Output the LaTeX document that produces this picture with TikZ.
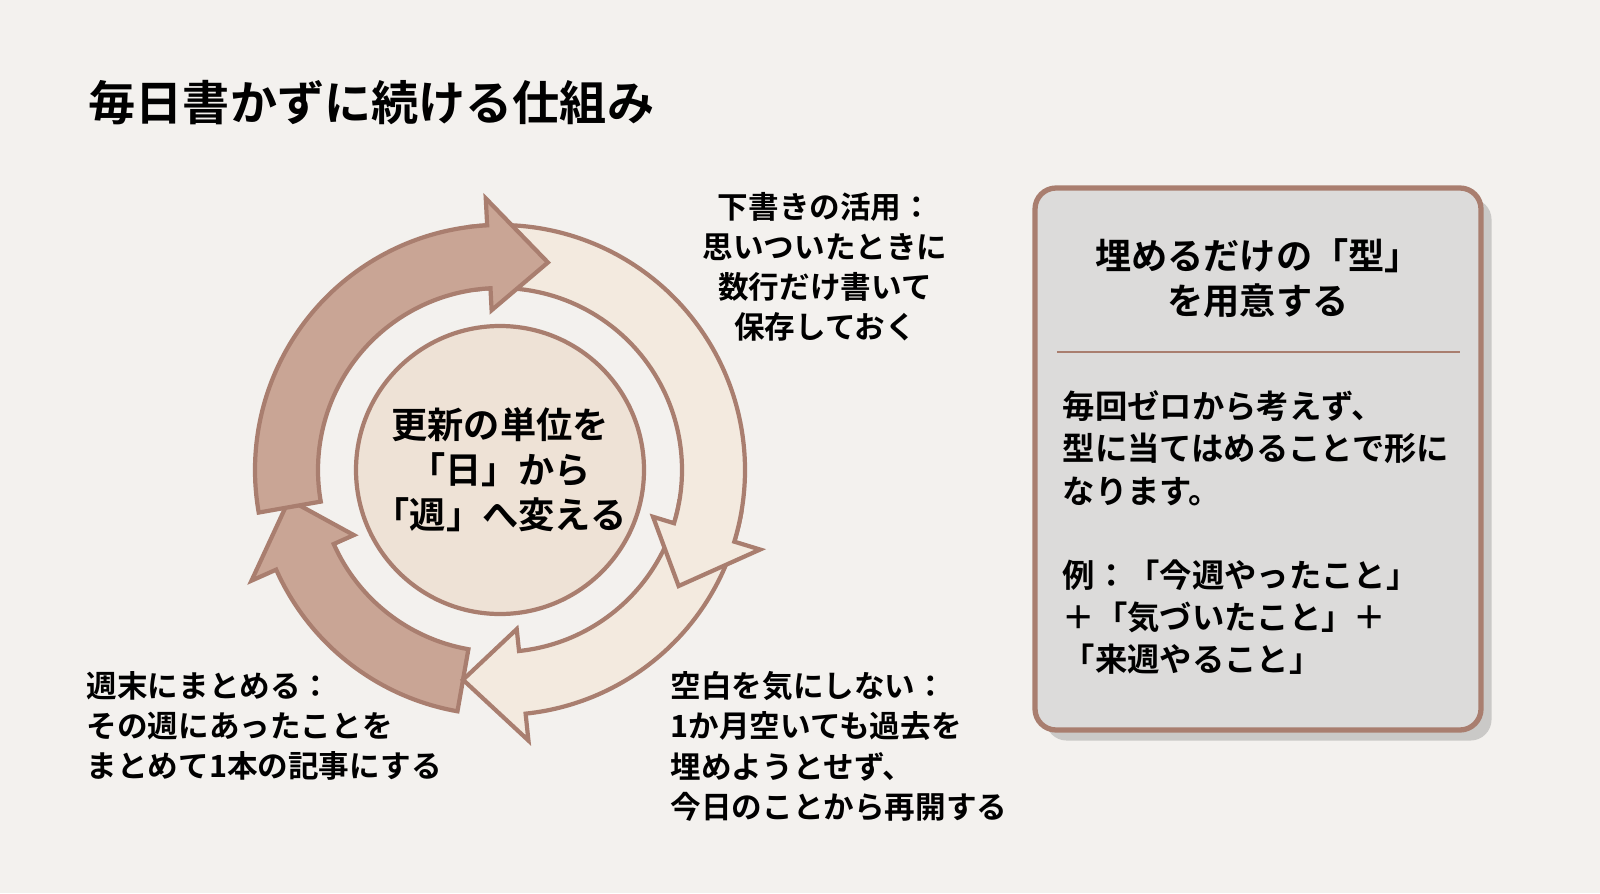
\documentclass[tikz,border=0pt]{standalone}
\usepackage{fontspec}
\setmainfont{Noto Sans CJK JP}[BoldFont={Noto Sans CJK JP Bold}]
\usepackage{tikz}
\usetikzlibrary{shadows}

\definecolor{paper}{HTML}{F3F1EE}
\definecolor{ringdark}{HTML}{C9A595}
\definecolor{ringlight}{HTML}{F3EADF}
\definecolor{ringline}{HTML}{A97E6F}
\definecolor{hubfill}{HTML}{EEE2D6}
\definecolor{boxfill}{HTML}{DCDBDA}

% clockwise ring arrow: start angle, tip angle, fill colour
\newcommand{\ringarrow}[3]{%
  \filldraw[fill=#3, draw=ringline, line width=1.2pt, line join=miter]
    (#1 : 182) arc [radius=182, start angle=#1, end angle=#2+16]
    -- (#2+16 : 160) -- (#2 : 213) -- (#2+16 : 272)
    -- (#2+16 : 245) arc [radius=245, start angle=#2+16, end angle=#1]
    -- cycle;
}

\begin{document}
\begin{tikzpicture}[x=0.01cm, y=0.01cm,
  label/.style={font=\bfseries\fontsize{8.7pt}{11.4pt}\selectfont, inner sep=0pt},
  boxtext/.style={font=\bfseries\fontsize{9.2pt}{12pt}\selectfont, inner sep=0pt},
  heading/.style={font=\bfseries\fontsize{10.3pt}{12.8pt}\selectfont, inner sep=0pt}]

% background
\fill[paper] (0, 0) rectangle (1600, 893);
\useasboundingbox (0, 0) rectangle (1600, 893);

% title
\node[anchor=west, inner sep=0pt, font=\bfseries\fontsize{13.4pt}{15pt}\selectfont] (title) at (88, 790) {毎日書かずに続ける仕組み};

% ring of arrows
\begin{scope}[shift={(500, 423)}]
\ringarrow{-100}{-172}{ringdark}
\ringarrow{-10}{-100}{ringlight}
\ringarrow{97}{-33}{ringlight}
\ringarrow{190}{77}{ringdark}
\filldraw[fill=hubfill, draw=ringline, line width=1.2pt] (0, 0) circle (144);
\end{scope}

\node[heading, align=center] (hub) at (500, 423) {更新の単位を\\「日」から\\「週」へ変える};

% labels round the ring
\node[label, align=center] (draft) at (825, 626) {下書きの活用：\\思いついたときに\\数行だけ書いて\\保存しておく};
\node[label, align=left, anchor=north west] (weekend) at (86, 222) {週末にまとめる：\\その週にあったことを\\まとめて1本の記事にする};
\node[label, align=left, anchor=north west] (blank) at (670, 222) {空白を気にしない：\\1か月空いても過去を\\埋めようとせず、\\今日のことから再開する};

% template box
\draw[fill=boxfill, draw=ringline, line width=1.5pt, rounded corners=6pt, drop shadow={opacity=0.35, shadow xshift=3pt, shadow yshift=-3pt}] (1035, 163) rectangle (1481, 705);
\node[heading, align=center] (boxhead) at (1258, 615) {埋めるだけの「型」\\を用意する};
\draw[ringline, line width=0.8pt] (1057, 541) -- (1460, 541);
\node[boxtext, align=left, anchor=north west] (boxbody) at (1062, 503) {毎回ゼロから考えず、\\型に当てはめることで形に\\なります。\\[12pt]例：「今週やったこと」\\＋「気づいたこと」＋\\「来週やること」};

\end{tikzpicture}
\end{document}
